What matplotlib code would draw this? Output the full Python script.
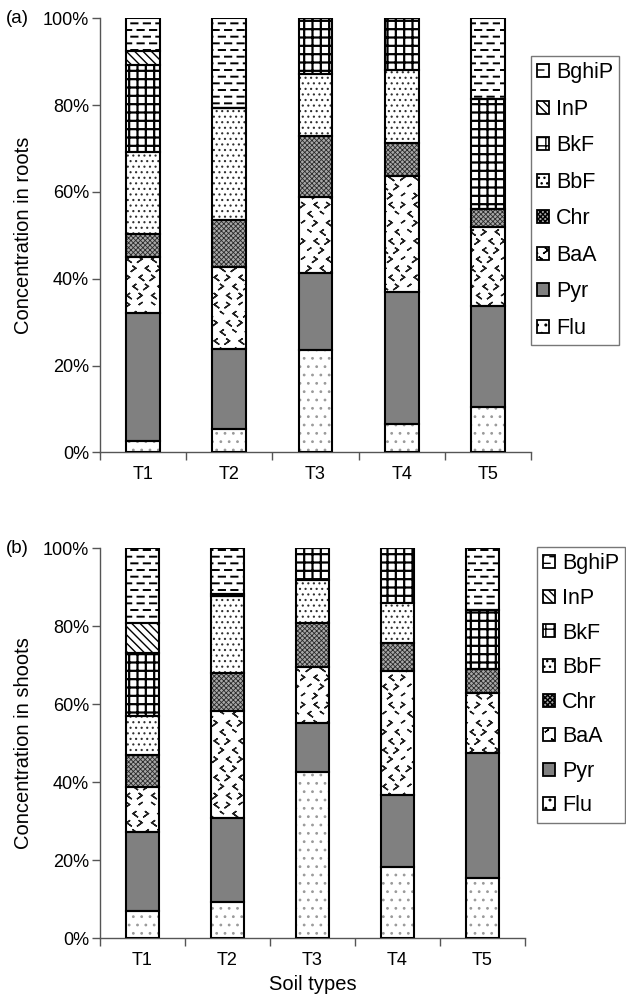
import warnings
import numpy as np
import matplotlib
matplotlib.use("Agg")
import matplotlib.pyplot as plt
import matplotlib.hatch as mhatch
from matplotlib.path import Path
from matplotlib.patches import Patch

warnings.filterwarnings("ignore")

# ---------------- data ----------------
soils = ["T1", "T2", "T3", "T4", "T5"]
compounds = ["Flu", "Pyr", "BaA", "Chr", "BbF", "BkF", "InP", "BghiP"]

roots_Flu = [2.6, 5.4, 23.6, 6.5, 10.5]
roots_Pyr = [29.4, 18.4, 17.7, 30.4, 23.1]
roots_BaA = [12.9, 18.8, 17.5, 26.8, 18.2]
roots_Chr = [5.4, 10.9, 14.1, 7.6, 4.3]
roots_BbF = [18.9, 25.9, 14.3, 16.8, 0.0]
roots_BkF = [20.0, 0.0, 12.8, 11.9, 25.2]
roots_InP = [3.3, 0.0, 0.0, 0.0, 0.0]
roots_BghiP = [7.5, 20.6, 0.0, 0.0, 18.7]

shoots_Flu = [7.0, 9.2, 42.6, 18.2, 15.5]
shoots_Pyr = [20.2, 21.7, 12.5, 18.5, 32.1]
shoots_BaA = [11.7, 27.4, 14.5, 31.9, 15.4]
shoots_Chr = [8.1, 9.6, 11.3, 7.0, 6.1]
shoots_BbF = [10.1, 19.8, 11.0, 10.3, 0.0]
shoots_BkF = [16.0, 0.0, 8.1, 14.1, 15.1]
shoots_InP = [7.8, 0.5, 0.0, 0.0, 0.0]
shoots_BghiP = [19.1, 11.8, 0.0, 0.0, 15.8]

yticks = [0, 20, 40, 60, 80, 100]
ytick_labels = ["0%", "20%", "40%", "60%", "80%", "100%"]

# ---------------- custom hatches ----------------
mhatch._validate_hatch_pattern = lambda h: None


class DashHatch(mhatch.HatchPatternBase):
    """staggered short horizontal dashes, char '_'"""
    def __init__(self, hatch, density):
        k = hatch.count('_')
        self.rows = 15 * k
        self.cols = 8 * k
        self.num_vertices = self.rows * self.cols * 2

    def set_vertices_and_codes(self, vertices, codes):
        i = 0
        hl = 0.25 / self.cols
        for r in range(self.rows):
            y = (r + 0.5) / self.rows
            sh = 0.5 if r % 2 else 0.0
            for c in range(self.cols):
                xc = (c + 0.25 + sh) / self.cols
                vertices[i] = (xc - hl, y)
                vertices[i + 1] = (xc + hl, y)
                codes[i] = Path.MOVETO
                codes[i + 1] = Path.LINETO
                i += 2


class ChevronHatch(mhatch.HatchPatternBase):
    """staggered small chevrons, char '<'"""
    def __init__(self, hatch, density):
        k = hatch.count('<')
        self.rows = 11 * k
        self.cols = 8 * k
        self.num_vertices = self.rows * self.cols * 5

    def set_vertices_and_codes(self, vertices, codes):
        i = 0
        w = 0.014
        h = 0.02
        for r in range(self.rows):
            y = (r + 0.5) / self.rows
            sh = 0.5 if r % 2 else 0.0
            for c in range(self.cols):
                xc = (c + 0.25 + sh) / self.cols
                d = 1 if (c + r // 2) % 2 == 0 else -1
                pts = [(xc + d * w, y + h), (xc - d * w, y), (xc + d * w, y - h),
                       (xc - d * w, y), (xc + d * w, y + h)]
                for j, p in enumerate(pts):
                    vertices[i + j] = p
                    codes[i + j] = Path.MOVETO if j == 0 else Path.LINETO
                i += 5


mhatch._hatch_types.append(DashHatch)
mhatch._hatch_types.append(ChevronHatch)

styles = {
    "Flu":   dict(face="white", hatch="..", hc="#9a9a9a", hlw=0.8),
    "Pyr":   dict(face="#808080", hatch=None, hc="#808080", hlw=1.0),
    "BaA":   dict(face="white", hatch="<", hc="#202020", hlw=1.0),
    "Chr":   dict(face="#a8a8a8", hatch="xxxxxxx", hc="#2a2a2a", hlw=0.6),
    "BbF":   dict(face="white", hatch="...", hc="#303030", hlw=0.8),
    "BkF":   dict(face="white", hatch="++", hc="black", hlw=1.6),
    "InP":   dict(face="white", hatch="\\\\\\\\", hc="black", hlw=1.0),
    "BghiP": dict(face="white", hatch="_", hc="black", hlw=1.4),
}

FONT = "Liberation Sans"
plt.rcParams["font.family"] = [FONT, "DejaVu Sans"]

W, H = 626, 998
fig = plt.figure(figsize=(W / 100, H / 100), dpi=100)


def fx(px):
    return px / W


def fy(py):
    return 1 - py / H


def make_panel(rect_px, data, label, ylabel, show_xlabel, leg_pos, leg_space):
    l, t, r, b = rect_px
    ax = fig.add_axes([fx(l), fy(b), fx(r) - fx(l), fy(t) - fy(b)])
    x = np.arange(len(soils))
    bottom = np.zeros(len(soils))
    handles = []
    for name in compounds:
        vals = np.array(data[name], dtype=float)
        st = styles[name]
        bars = ax.bar(x, vals, 0.39, bottom=bottom, color=st["face"],
                      hatch=st["hatch"], edgecolor=st["hc"], linewidth=0,
                      zorder=2)
        for p in bars:
            try:
                p.set_hatch_linewidth(st["hlw"])
            except Exception:
                pass
        ax.bar(x, vals, 0.39, bottom=bottom, fill=False,
               edgecolor="black", linewidth=1.5, zorder=3)
        bottom = bottom + vals
        hp = Patch(facecolor=st["face"], hatch=st["hatch"],
                   edgecolor="black", linewidth=1.3)
        try:
            hp.set_hatch_linewidth(st["hlw"])
        except Exception:
            pass
        handles.append(hp)
    ax.set_xlim(-0.5, len(soils) - 0.5)
    ax.set_ylim(0, 100)
    ax.set_yticks(yticks)
    ax.set_yticklabels(ytick_labels, fontsize=13)
    ax.set_xticks(np.arange(len(soils) + 1) - 0.5)
    ax.set_xticklabels([])
    ax.set_xticks(x, minor=True)
    ax.set_xticklabels(soils, minor=True, fontsize=13)
    ax.tick_params(axis="x", which="major", direction="out", length=6,
                   color="#555555", width=1)
    ax.tick_params(axis="x", which="minor", length=0, pad=10)
    ax.tick_params(axis="y", direction="out", length=6, color="#555555",
                   width=1, pad=2)
    for s in ["top", "right"]:
        ax.spines[s].set_visible(False)
    for s in ["left", "bottom"]:
        ax.spines[s].set_color("#555555")
        ax.spines[s].set_linewidth(1.0)
    fig.text(fx(6), fy(t), label, fontsize=13.5, va="center", ha="left")
    fig.text(fx(24), fy((t + b) / 2), ylabel, fontsize=14.5, rotation=90,
             va="center", ha="center")
    if show_xlabel:
        fig.text(fx((l + r) / 2), fy(985), "Soil types", fontsize=14.5,
                 va="center", ha="center")
    lx, ly = leg_pos
    leg = fig.legend(handles[::-1], compounds[::-1], loc="upper left",
                     bbox_to_anchor=(fx(lx), fy(ly)), fontsize=15.5,
                     frameon=True, fancybox=False, edgecolor="#555555",
                     handlelength=0.55, handleheight=0.55, handletextpad=0.3,
                     labelspacing=leg_space, borderpad=0.3, borderaxespad=0)
    leg.get_frame().set_linewidth(1.0)
    return ax


roots = {"Flu": roots_Flu, "Pyr": roots_Pyr, "BaA": roots_BaA,
         "Chr": roots_Chr, "BbF": roots_BbF, "BkF": roots_BkF,
         "InP": roots_InP, "BghiP": roots_BghiP}
shoots = {"Flu": shoots_Flu, "Pyr": shoots_Pyr, "BaA": shoots_BaA,
          "Chr": shoots_Chr, "BbF": shoots_BbF, "BkF": shoots_BkF,
          "InP": shoots_InP, "BghiP": shoots_BghiP}

make_panel((100, 18.3, 531, 452.3), roots, "(a)", "Concentration in roots",
           False, (531, 56), 0.72)
make_panel((100, 548.3, 525, 938.3), shoots, "(b)",
           "Concentration in shoots", True, (537, 547), 0.63)

fig.savefig("out.png", dpi=100)
